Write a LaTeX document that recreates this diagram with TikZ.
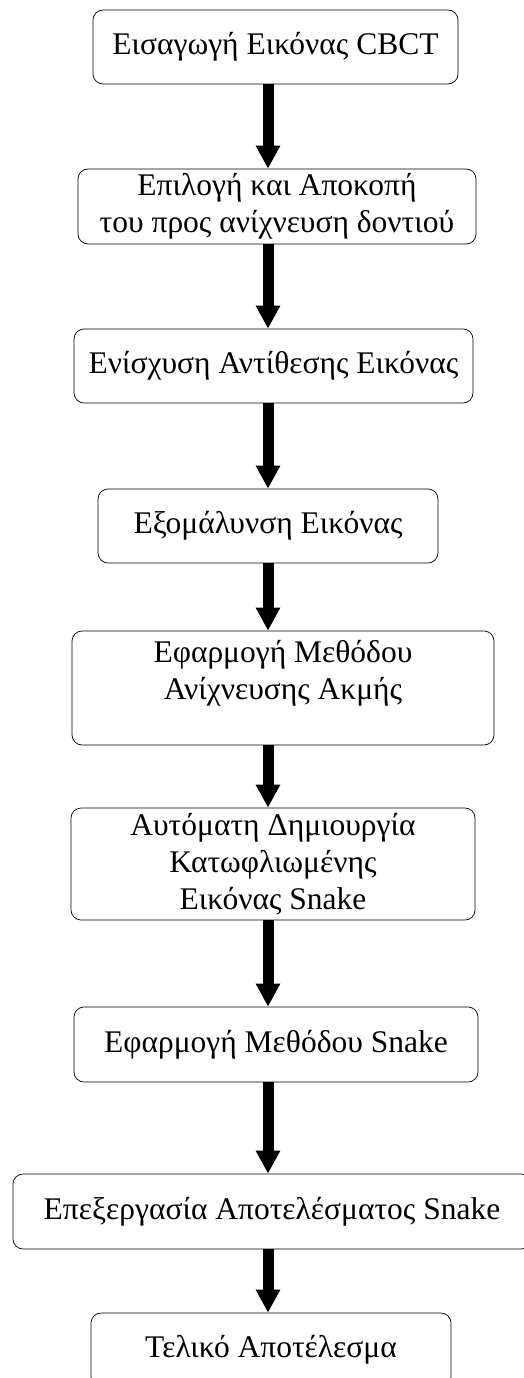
\documentclass[tikz,border=0pt]{standalone}
\usepackage{fontspec}
\setmainfont{Liberation Serif}
\usepackage{tikz}
\usetikzlibrary{positioning, calc, arrows.meta}

\begin{document}
\begin{tikzpicture}[x=1pt, y=-1pt,
		stepbox/.style={draw, line width=0.7pt, rounded corners=10pt, inner sep=0pt, align=center, font=\fontsize{31.5}{37}\selectfont},
		flow/.style={line width=11pt, -{Triangle[width=23pt, length=23pt]}}]
		\pgfmathsetmacro{\arrowx}{268}
		\useasboundingbox (0,0) rectangle (523,1378);
		\coordinate (ax) at (\arrowx,0);
		
		\node[stepbox, minimum width=365pt, minimum height=74pt] (input) at (275.5,47) {Εισαγωγή Εικόνας CBCT};
		\node[stepbox, minimum width=398pt, minimum height=75pt] (crop) at (277,206.5) {Επιλογή και Αποκοπή\\του προς ανίχνευση δοντιού};
		\node[stepbox, minimum width=399pt, minimum height=74pt] (contrast) at (273.5,366) {Ενίσχυση Αντίθεσης Εικόνας};
		\node[stepbox, minimum width=340pt, minimum height=74pt] (smooth) at (268,526) {Εξομάλυνση Εικόνας};
		\node[stepbox, minimum width=422pt, minimum height=114pt] (edge) at (283,688) {Εφαρμογή Μεθόδου\\ Ανίχνευσης Ακμής\\ \mbox{}};
		\node[stepbox, minimum width=404pt, minimum height=112pt] (thresh) at (273,864) {Αυτόματη Δημιουργία\\Κατωφλιωμένης\\ Εικόνας Snake};
		\node[stepbox, minimum width=404pt, minimum height=75pt] (snake) at (276,1044.5) {Εφαρμογή Μεθόδου Snake};
		\node[stepbox, minimum width=518pt, minimum height=75pt] (post) at (272,1211.5) {Επεξεργασία Αποτελέσματος Snake};
		\node[stepbox, minimum width=360pt, minimum height=74pt] (result) at (271,1350) {Τελικό Αποτέλεσμα};
		
		\draw[flow] (input.south -| ax) -- (crop.north -| ax);
		\draw[flow] (crop.south -| ax) -- (contrast.north -| ax);
		\draw[flow] (contrast.south -| ax) -- (smooth.north -| ax);
		\draw[flow] (smooth.south -| ax) -- (edge.north -| ax);
		\draw[flow] (edge.south -| ax) -- (thresh.north -| ax);
		\draw[flow] (thresh.south -| ax) -- (snake.north -| ax);
		\draw[flow] (snake.south -| ax) -- (post.north -| ax);
		\draw[flow] (post.south -| ax) -- (result.north -| ax);
\end{tikzpicture}
\end{document}
